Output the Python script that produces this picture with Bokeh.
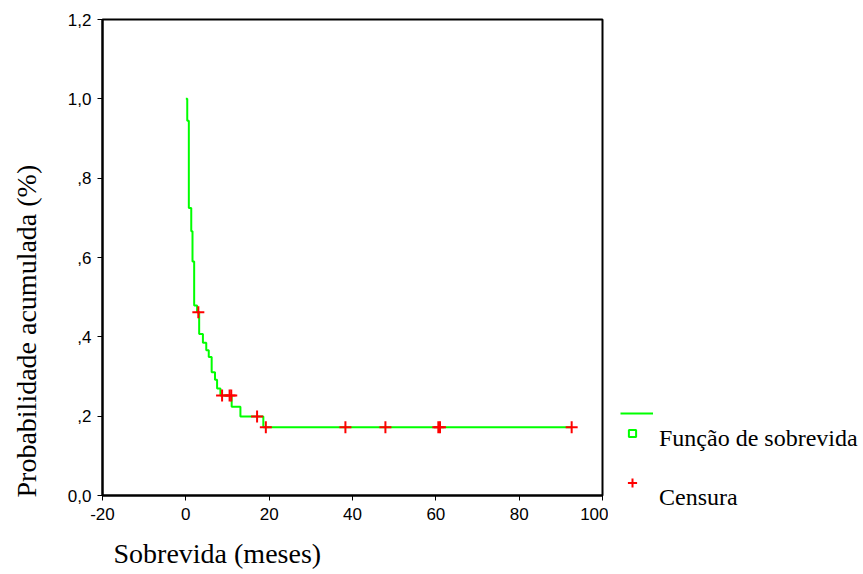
from bokeh.plotting import figure
from bokeh.models import ColumnDataSource, FixedTicker, Legend, LegendItem, Title
from bokeh.layouts import row, column
from bokeh.embed import file_html
from bokeh.resources import INLINE

# ---- data ----
surv_time = [0, 0.34, 0.72, 1.3, 1.6, 2.0, 2.7, 3.2, 4.1, 4.9, 5.5, 6.2, 7.0,
             7.5, 8.3, 11.0, 13.1, 18.6, 92.6]
surv_prob = [1.0, 0.945, 0.725, 0.666, 0.59, 0.479, 0.462, 0.407, 0.385, 0.366,
             0.349, 0.311, 0.292, 0.270, 0.252, 0.224, 0.199, 0.172, 0.172]
cens_time = [3.0, 8.7, 10.5, 10.9, 17.1, 19.2, 38.3, 47.9, 60.6, 61.0, 92.6]
cens_prob = [0.462, 0.252, 0.252, 0.252, 0.199, 0.172, 0.172, 0.172, 0.172,
             0.172, 0.172]
x_ticks = [-20, 0, 20, 40, 60, 80, 100]
x_tick_labels = ["-20", "0", "20", "40", "60", "80", "100"]
y_ticks = [0.0, 0.2, 0.4, 0.6, 0.8, 1.0, 1.2]
y_tick_labels = ["0,0", ",2", ",4", ",6", ",8", "1,0", "1,2"]
legend_labels = ["Função de sobrevida", "Censura"]
x_title = "Sobrevida (meses)"
y_title = "Probabilidade acumulada (%)"

GREEN = "#00FF00"
RED = "#FF0000"

p = figure(width=608, height=574, x_range=(-20, 100), y_range=(0, 1.2),
           output_backend="svg", toolbar_location=None,
           min_border_left=102, min_border_right=6,
           min_border_top=19, min_border_bottom=79)
p.xgrid.visible = False
p.ygrid.visible = False
p.outline_line_color = "black"
p.outline_line_width = 2
p.background_fill_color = "white"
p.border_fill_color = "white"

for ax in (p.xaxis[0], p.yaxis[0]):
    ax.axis_line_color = "black"
    ax.axis_line_width = 2
    ax.major_tick_line_color = "black"
    ax.major_tick_line_width = 1
    ax.major_tick_in = 0
    ax.major_tick_out = 5
    ax.minor_tick_line_color = None
    ax.major_label_text_font = "Liberation Sans"
    ax.major_label_text_font_size = "17px"
    ax.major_label_text_color = "black"

p.xaxis.ticker = FixedTicker(ticks=x_ticks)
p.yaxis.ticker = FixedTicker(ticks=y_ticks)
p.xaxis.major_label_overrides = {t: l for t, l in zip(x_ticks, x_tick_labels)}
p.yaxis.major_label_overrides = {t: l for t, l in zip(y_ticks, y_tick_labels)}
p.xaxis.major_label_standoff = 7
p.yaxis.major_label_standoff = 6


def spacer(size):
    # blank title used only as a gap between an axis and its title
    return Title(text=" ", text_font_size="1px", standoff=size)


def axis_title(text):
    return Title(text=text, align="left", standoff=0,
                 text_font="Liberation Serif", text_font_size="28px",
                 text_font_style="normal", text_color="black")


xt = axis_title(x_title)
xt.offset = 11
yt = axis_title(y_title)
yt.offset = -2
p.add_layout(spacer(10), "below")
p.add_layout(xt, "below")
p.add_layout(spacer(20), "left")
p.add_layout(yt, "left")

src = ColumnDataSource(dict(t=surv_time, s=surv_prob))
csrc = ColumnDataSource(dict(t=cens_time, s=cens_prob))

p.step(x="t", y="s", source=src, mode="after", line_color=GREEN, line_width=2)
p.scatter(x="t", y="s", source=csrc, marker="cross", size=12,
          line_color=RED, line_width=2)

# ---- legend panel to the right of the plot ----
lp = figure(width=255, height=574, x_range=(0, 1), y_range=(0, 1),
            x_axis_type=None, y_axis_type=None,
            output_backend="svg", toolbar_location=None,
            min_border_left=0, min_border_right=0,
            min_border_top=0, min_border_bottom=0)
lp.xgrid.visible = False
lp.ygrid.visible = False
lp.outline_line_color = None
lp.background_fill_color = "white"
lp.border_fill_color = "white"

# hidden proxy renderers (legend glyphs only)
leg_line = lp.line(x="t", y="s", source=src, line_color=GREEN, line_width=2,
                   visible=False)
leg_square = lp.scatter(x="t", y="s", source=src, marker="square", size=7,
                        line_color=GREEN, fill_color="white", line_width=2,
                        visible=False)
leg_cross = lp.scatter(x="t", y="s", source=csrc, marker="cross", size=10,
                       line_color=RED, line_width=2, visible=False)
leg_blank = lp.scatter(x="t", y="s", source=csrc, marker="square", size=1,
                       line_color=None, fill_color=None, visible=False)


def make_legend(renderer, label, loc, gw, gh, lh, fs="24px"):
    lg = Legend(items=[LegendItem(label=label, renderers=[renderer])],
                location=loc, orientation="vertical",
                padding=0, margin=0, spacing=0,
                glyph_width=gw, glyph_height=gh, label_height=lh,
                label_standoff=15, label_text_font="Liberation Serif",
                label_text_font_size=fs, label_text_color="black",
                border_line_color=None, background_fill_alpha=0,
                click_policy="none", inactive_fill_alpha=0)
    lp.add_layout(lg)
    return lg


# lp frame spans the full canvas (bottom at y=574)
make_legend(leg_line, "", (12, 156), 33, 10, 1, fs="1px")
make_legend(leg_square, "", (12, 132), 24, 18, 1, fs="1px")
make_legend(leg_blank, legend_labels[0], (12, 122), 24, 28, 28)
make_legend(leg_cross, "", (12, 80), 24, 23, 1, fs="1px")
make_legend(leg_blank, legend_labels[1], (12, 50), 24, 53, 53)

layout = row(p, column(lp))
open("out.html", "w").write(file_html(layout, INLINE))
